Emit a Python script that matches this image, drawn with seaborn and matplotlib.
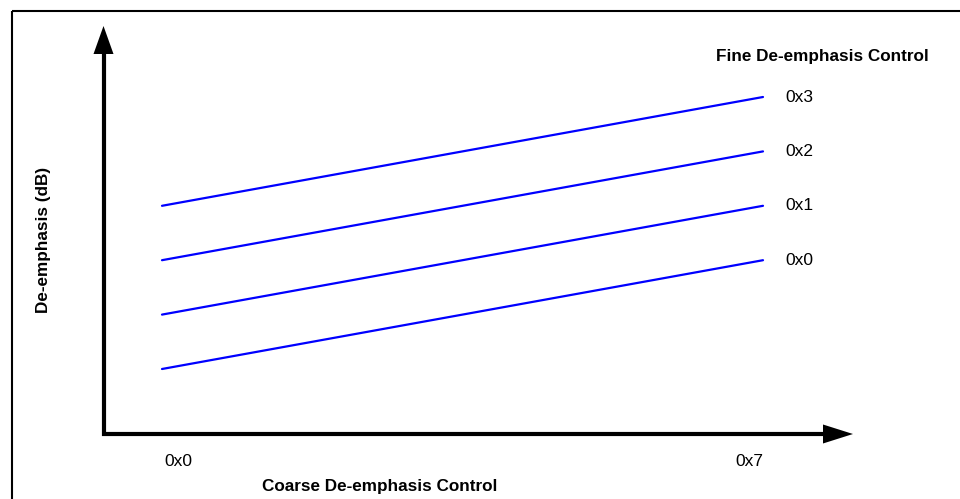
import matplotlib
matplotlib.use("Agg")
import matplotlib.pyplot as plt
from matplotlib.lines import Line2D
from matplotlib.patches import Polygon, Rectangle
import pandas as pd
import seaborn as sns

# Coarse control settings shown on the x axis
coarse_codes = ["0x0", "0x7"]
coarse_steps = [0, 7]

# Fine control settings, one line each (relative de-emphasis units)
fine_codes = ["0x0", "0x1", "0x2", "0x3"]
deemph_at_coarse_min = [1, 2, 3, 4]
deemph_at_coarse_max = [3, 4, 5, 6]

rows = []
for code, lo, hi in zip(fine_codes, deemph_at_coarse_min, deemph_at_coarse_max):
    rows.append({"coarse": coarse_steps[0], "deemph": lo, "fine": code})
    rows.append({"coarse": coarse_steps[1], "deemph": hi, "fine": code})
df = pd.DataFrame(rows)

sns.set_theme(style="white")
plt.rcParams["font.family"] = ["Liberation Sans", "DejaVu Sans"]

W, H = 960, 499
fig = plt.figure(figsize=(W / 100, H / 100), dpi=100)
fig.patch.set_facecolor("white")
ax = fig.add_axes([0, 0, 1, 1])
ax.set_xlim(-1.8868, 9.2946)
ax.set_ylim(-1.3897, 7.7831)
ax.axis("off")


def fp(x, y):
    """Pixel position (from top-left) to figure fraction."""
    return x / W, 1 - y / H


# Frame around the diagram
fig.patches.append(Rectangle(fp(12, 10.5), 2, -2, transform=fig.transFigure,
                             fill=False, lw=1.5, ec="black"))

sns.lineplot(data=df, x="coarse", y="deemph", hue="fine",
             palette=["#0000ff"] * len(fine_codes), legend=False,
             linewidth=1.6, ax=ax)

# Axis shafts (one L-shaped polyline) and filled arrow heads
corner = fp(103.5, 434)
top = fp(103.5, 50)
right = fp(826, 434)
fig.lines.append(Line2D([top[0], corner[0], right[0]], [top[1], corner[1], right[1]],
                        transform=fig.transFigure, color="black", lw=3,
                        solid_joinstyle="miter", solid_capstyle="butt"))
fig.patches.append(Polygon([fp(103.5, 26), fp(93.5, 54), fp(113.5, 54)],
                           closed=True, transform=fig.transFigure,
                           fc="black", ec="none"))
fig.patches.append(Polygon([fp(853, 434), fp(823, 424.5), fp(823, 443.5)],
                           closed=True, transform=fig.transFigure,
                           fc="black", ec="none"))

# Line labels at the right end
for code, hi in zip(fine_codes, deemph_at_coarse_max):
    ax.annotate(code, xy=(coarse_steps[1], hi), xytext=(15.8, 0),
                textcoords="offset points", ha="left", va="center",
                fontsize=12.5, color="black")

fig.text(*fp(822, 57), "Fine De-emphasis Control", ha="center", va="center",
         fontsize=12.3, fontweight="bold", color="black")

for code, x in zip(coarse_codes, [178, 749]):
    fig.text(*fp(x, 461), code, ha="center", va="center",
             fontsize=12.5, color="black")

fig.text(*fp(380, 487), "Coarse De-emphasis Control", ha="center", va="center",
         fontsize=12.3, fontweight="bold", color="black")
fig.text(*fp(44, 240), "De-emphasis (dB)", ha="center", va="center",
         rotation=90, fontsize=12.3, fontweight="bold", color="black")

fig.savefig("out.png", dpi=100, facecolor="white")
